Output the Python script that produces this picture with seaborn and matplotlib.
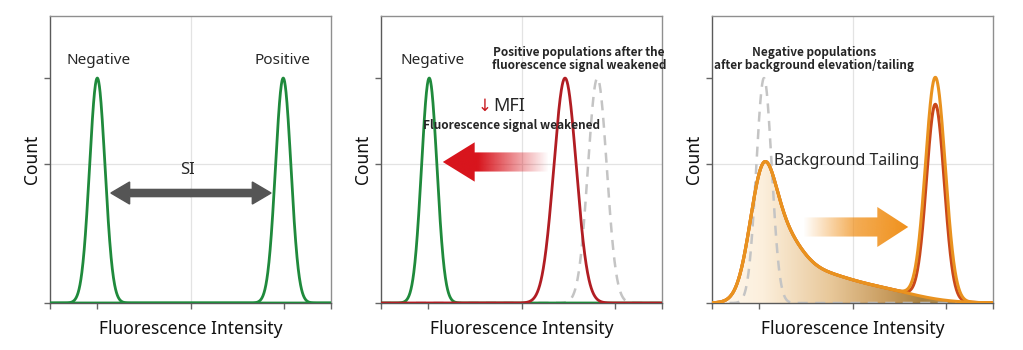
import numpy as np
import pandas as pd
import matplotlib
matplotlib.use("Agg")
import matplotlib.pyplot as plt
import seaborn as sns
from matplotlib.patches import FancyArrow
from matplotlib.colors import LinearSegmentedColormap, to_rgb

# ---------------- data ----------------
x_ticks = [0, 1, 3, 5, 6]
y_ticks = [0, 0.618, 1.0]
x_limits = (0, 6)
y_limits = (0, 1.276)

# panel 1: negative / positive peaks
p1_centers = [1.01, 4.98]
p1_sigmas = [0.165, 0.165]
p1_heights = [1.0, 1.0]

# panel 2: negative, weakened positive, original positive (dashed)
p2_centers = [1.03, 3.93, 4.62]
p2_sigmas = [0.165, 0.24, 0.20]
p2_heights = [1.0, 1.0, 1.0]

# panel 3: original negative (dashed), tailing background components, positive peaks
p3_dashed = [1.11, 0.165, 1.0]
p3_tail_centers = [1.07, 1.45, 2.2, 3.3]
p3_tail_sigmas = [0.27, 0.42, 0.6, 0.9]
p3_tail_heights = [0.43, 0.25, 0.09, 0.07]
p3_pos_centers = [4.77, 4.77]
p3_pos_sigmas = [0.21, 0.19]
p3_pos_heights = [0.985, 0.865]

labels_p1 = ["Negative", "Positive", "SI"]
labels_p2 = ["Negative", "Positive populations after the\nfluorescence signal weakened",
             "MFI", "Fluorescence signal weakened"]
labels_p3 = ["Negative populations\nafter background elevation/tailing", "Background Tailing"]
x_label = "Fluorescence Intensity"
y_label = "Count"

GREEN = "#1f8a3c"
RED = "#b11d23"
GRAY_D = "#c4c4c4"
ORANGE = "#e9921f"
DARKOR = "#c9481b"
BOLD_FAMILY = ["Noto Sans CJK SC", "DejaVu Sans"]

# ---------------- style ----------------
sns.set_theme(style="white")
plt.rcParams["font.family"] = ["Noto Sans", "DejaVu Sans"]

grid = np.linspace(x_limits[0], x_limits[1], 1201)


def gauss(c, s, h):
    return h * np.exp(-0.5 * ((grid - c) / s) ** 2)


fig = plt.figure(figsize=(10.23, 3.5), dpi=100)
lefts = [50 / 1023, 381 / 1023, 712 / 1023]
axes = [fig.add_axes([l, 47 / 350, 281 / 1023, 287 / 350]) for l in lefts]


def style_axis(ax):
    ax.set_xlim(*x_limits)
    ax.set_ylim(*y_limits)
    ax.set_xticks(x_ticks)
    ax.set_yticks(y_ticks)
    ax.set_xticklabels([])
    ax.set_yticklabels([])
    ax.tick_params(axis="both", which="both", direction="out", length=4,
                   width=1, color="#666666", bottom=True, left=True)
    for side, sp in ax.spines.items():
        sp.set_visible(True)
        sp.set_linewidth(1.0)
        sp.set_color("#5a5a5a" if side in ("left", "bottom") else "#8f8f8f")
    ax.axvline(3, color="#e3e3e3", lw=0.9, zorder=0)
    ax.axhline(0.618, color="#e3e3e3", lw=0.9, zorder=0)
    ax.set_xlabel(x_label, fontsize=12.5, labelpad=5, color="#111111")
    ax.set_ylabel(y_label, fontsize=12.5, labelpad=-1, color="#111111")
    ax.grid(False)
    ax.set_facecolor("white")


def draw_line(ax, y, color, lw=2.0, ls="-", z=3):
    df = pd.DataFrame({"x": grid, "y": y})
    sns.lineplot(data=df, x="x", y="y", ax=ax, color=color, lw=lw,
                 linestyle=ls, zorder=z)
    ax.set_xlabel("")
    ax.set_ylabel("")


def gradient_arrow(ax, x0, dx, y0, width, head_w, head_l, colors, stops, z=4):
    arr = FancyArrow(x0, y0, dx, 0, width=width, head_width=head_w,
                     head_length=head_l, length_includes_head=True,
                     facecolor="none", edgecolor="none")
    ax.add_patch(arr)
    xs = np.linspace(min(x0, x0 + dx), max(x0, x0 + dx), 400)
    cmap = LinearSegmentedColormap.from_list("g", list(zip(stops, colors)))
    t = (xs - xs[0]) / (xs[-1] - xs[0])
    img = cmap(t)[None, :, :]
    im = ax.imshow(img, extent=[xs[0], xs[-1], y0 - head_w, y0 + head_w],
                   aspect="auto", interpolation="bilinear", zorder=z)
    im.set_clip_path(arr)


# ---------------- panel 1 ----------------
ax = axes[0]
for c, s, h in zip(p1_centers, p1_sigmas, p1_heights):
    draw_line(ax, gauss(c, s, h), GREEN)
style_axis(ax)
ax.text(1.03, 1.08, labels_p1[0], ha="center", va="center", fontsize=11)
ax.text(4.97, 1.08, labels_p1[1], ha="center", va="center", fontsize=11)
ax.text(2.94, 0.59, labels_p1[2], ha="center", va="center", fontsize=12)
for dx in (-1.70, 1.72):
    ax.add_patch(FancyArrow(3.0, 0.489, dx, 0, width=0.032, head_width=0.098,
                            head_length=0.40, length_includes_head=True,
                            color="#555555", zorder=4))

# ---------------- panel 2 ----------------
ax = axes[1]
draw_line(ax, gauss(p2_centers[2], p2_sigmas[2], p2_heights[2]), GRAY_D,
          lw=1.8, ls=(0, (4, 3)), z=2)
draw_line(ax, gauss(p2_centers[0], p2_sigmas[0], p2_heights[0]), GREEN)
draw_line(ax, gauss(p2_centers[1], p2_sigmas[1], p2_heights[1]), RED)
style_axis(ax)
ax.text(1.1, 1.08, labels_p2[0], ha="center", va="center", fontsize=11)
ax.text(4.23, 1.085, labels_p2[1], ha="center", va="center", fontsize=8.5,
        fontweight="bold", linespacing=0.92, family=BOLD_FAMILY)
ax.text(2.36, 0.875, "↓", ha="right", va="center", fontsize=12, color="#c8161d",
        family=["DejaVu Sans"])
ax.text(2.40, 0.875, labels_p2[2], ha="left", va="center", fontsize=13)
ax.text(2.78, 0.79, labels_p2[3], ha="center", va="center", fontsize=8.5,
        fontweight="bold", family=BOLD_FAMILY)
red = to_rgb("#d8151d")
gradient_arrow(ax, 3.57, -2.25, 0.627, 0.085, 0.175, 0.68,
               [red + (1.0,), red + (1.0,), red + (0.0,)], [0.0, 0.33, 1.0])

# ---------------- panel 3 ----------------
ax = axes[2]
tail = np.zeros_like(grid)
for c, s, h in zip(p3_tail_centers, p3_tail_sigmas, p3_tail_heights):
    tail = tail + gauss(c, s, h)
poly = ax.fill_between(grid, tail, color="none", lw=0)
fill_cmap = LinearSegmentedColormap.from_list(
    "fill", [(0.0, "#fff9f0"), (0.18, "#fcefdc"), (0.42, "#e8c89a"),
             (0.62, "#c99d60"), (0.75, "#a8803f"), (1.0, "#c9a56a")])
im = ax.imshow(fill_cmap(np.linspace(0, 1, 600))[None, :, :],
               extent=[0, 6, 0, 0.7], aspect="auto", interpolation="bilinear", zorder=1)
im.set_clip_path(poly.get_paths()[0], transform=ax.transData)
draw_line(ax, gauss(*p3_dashed), GRAY_D, lw=1.8, ls=(0, (4, 3)), z=2)
draw_line(ax, tail + gauss(p3_pos_centers[1], p3_pos_sigmas[1], p3_pos_heights[1]),
          DARKOR, lw=2.2, z=3)
draw_line(ax, tail + gauss(p3_pos_centers[0], p3_pos_sigmas[0], p3_pos_heights[0]),
          ORANGE, lw=2.2, z=4)
draw_line(ax, tail, ORANGE, lw=2.2, z=4)
style_axis(ax)
ax.text(2.18, 1.085, labels_p3[0], ha="center", va="center", fontsize=8.5,
        fontweight="bold", linespacing=0.92, family=BOLD_FAMILY)
ax.text(2.88, 0.63, labels_p3[1], ha="center", va="center", fontsize=11.5)
orng = to_rgb("#f0901a")
gradient_arrow(ax, 1.94, 2.25, 0.338, 0.085, 0.178, 0.66,
               [orng + (0.0,), orng + (0.75,), orng + (1.0,)], [0.0, 0.5, 1.0])

fig.savefig("out.png", dpi=100, facecolor="white")
